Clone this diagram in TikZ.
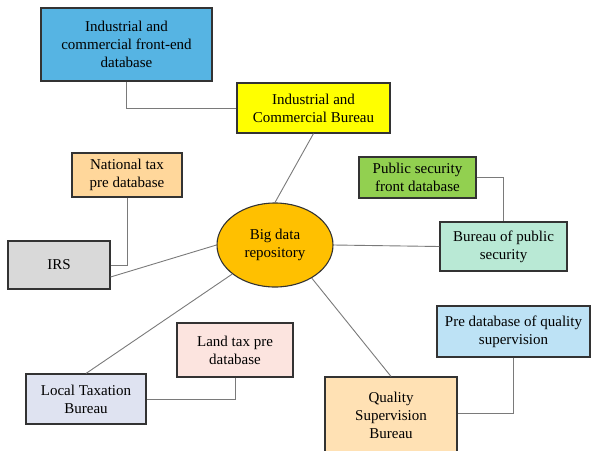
\documentclass[tikz,border=0pt]{standalone}
\usepackage{fontspec}
\setmainfont{Liberation Serif}
\usetikzlibrary{shapes.geometric,calc}
\definecolor{cA}{HTML}{56B4E3}
\definecolor{cB}{HTML}{FFFF00}
\definecolor{cNT}{HTML}{FFD79B}
\definecolor{cIRS}{HTML}{D9D9D9}
\definecolor{cEll}{HTML}{FFC000}
\definecolor{cPSF}{HTML}{92D050}
\definecolor{cBPS}{HTML}{B9E9D5}
\definecolor{cPQ}{HTML}{BDE2F5}
\definecolor{cLand}{HTML}{FCE4DF}
\definecolor{cLocal}{HTML}{DFE3F1}
\definecolor{cQual}{HTML}{FFE1B4}
\definecolor{edge}{HTML}{333333}
\definecolor{conn}{HTML}{7A7A7A}
\tikzset{
  boxnode/.style={draw=edge, line width=1.1pt, rectangle, align=center, inner sep=0pt,
    font=\fontsize{15}{18}\selectfont, text=black},
  conline/.style={draw=conn, line width=0.9pt},
}
\begin{document}
\begin{tikzpicture}[x=1pt,y=-1pt]
\useasboundingbox (0,0) rectangle (591,450);
\node[boxnode, fill=cA, minimum width=171pt, minimum height=73pt] (ifd) at (126.5,44.5) {Industrial and\\commercial front-end\\database};
\node[boxnode, fill=cB, minimum width=153pt, minimum height=50pt] (icb) at (313.5,108) {Industrial and\\Commercial Bureau};
\node[boxnode, fill=cNT, minimum width=110pt, minimum height=44pt] (ntp) at (127,175) {National tax\\pre database};
\node[boxnode, fill=cIRS, minimum width=102pt, minimum height=48pt] (irs) at (59,265) {IRS};
\node[draw=edge, line width=1.1pt, ellipse, fill=cEll, minimum width=116pt, minimum height=84pt, inner sep=0pt, align=center, font=\fontsize{15}{18}\selectfont] (ell) at (275,245) {Big data\\repository};
\node[boxnode, fill=cPSF, minimum width=117pt, minimum height=41pt] (psf) at (417.5,177.5) {Public security\\front database};
\node[boxnode, fill=cBPS, minimum width=127pt, minimum height=49pt] (bps) at (503.5,246.5) {Bureau of public\\security};
\node[boxnode, fill=cPQ, minimum width=153pt, minimum height=51pt] (pqs) at (513.5,331.5) {Pre database of quality\\supervision};
\node[boxnode, fill=cLand, minimum width=116pt, minimum height=54pt] (ltp) at (235,350) {Land tax pre\\database};
\node[boxnode, fill=cLocal, minimum width=120pt, minimum height=50pt] (ltb) at (86,399) {Local Taxation\\Bureau};
\node[boxnode, fill=cQual, minimum width=132pt, minimum height=76pt] (qsb) at (391,415) {Quality\\Supervision\\Bureau};
% connectors
\draw[conline] (ifd.south) |- (icb.west);
\draw[conline] (icb.south) -- (ell.north);
\draw[conline] (ntp.south) |- (irs.east);
\draw[conline] ($(irs.east)+(0,12)$) -- (ell.west);
\draw[conline] (ell.east) -- (bps.west);
\draw[conline] (psf.east) -| (bps.north);
\draw[conline] (ell) -- (ltb.north);
\draw[conline] (ell.318) -- (qsb.north);
\draw[conline] (ltp.south) |- (ltb.east);
\draw[conline] (pqs.south) |- ($(qsb.east)+(0,-2)$);
\end{tikzpicture}
\end{document}
